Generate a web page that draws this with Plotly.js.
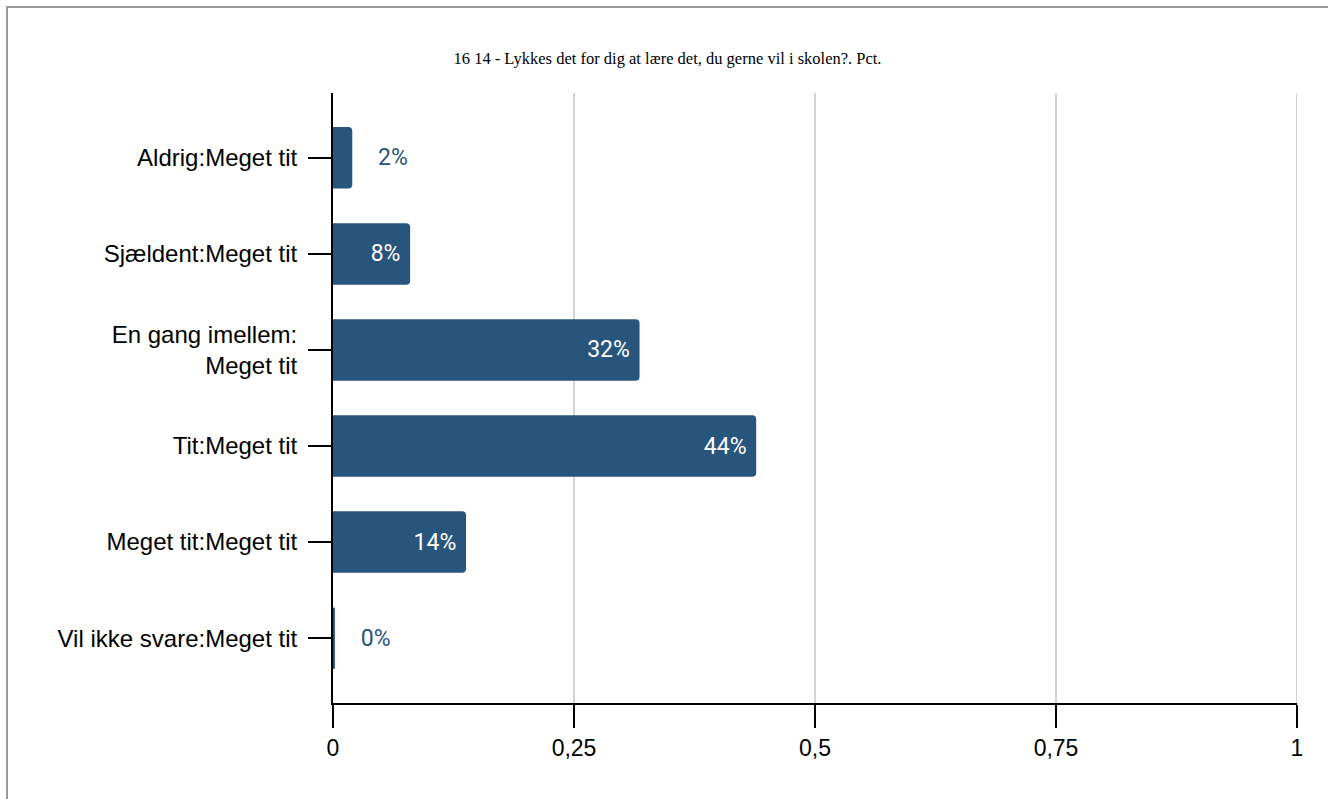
<!DOCTYPE html>
<html>
<head>
<meta charset="utf-8">
<script src="https://cdn.plot.ly/plotly-3.0.1.min.js"></script>
<style>
html,body{margin:0;padding:0;background:#fff;}
#chart{width:1328px;height:799px;}
</style>
</head>
<body>
<div id="chart"></div>
<script>
const categories = ['Aldrig:Meget tit','Sjældent:Meget tit','En gang imellem:<br>Meget tit','Tit:Meget tit','Meget tit:Meget tit','Vil ikke svare:Meget tit'];
const values = [0.02, 0.08, 0.318, 0.439, 0.138, 0.002];
const labels = ['2%','8%','32%','44%','14%','0%'];
const labelPlacement = ['outside','inside','inside','inside','inside','outside'];
const xTickVals = [0, 0.25, 0.5, 0.75, 1];
const xTickText = ['0','0,25','0,5','0,75','1'];

const NB = '\u00a0';
const texts = labels.map((t,i)=> labelPlacement[i]==='outside' ? NB.repeat(4)+t : t+NB.repeat(1));
const barColor = '#28557c';

const L = 333, R = 1297, T = 93, B = 703, W = 1328, H = 799;
const px = x => (x - L) / (R - L);
const py = y => (B - y) / (B - T);

const trace = {
  type: 'bar',
  orientation: 'h',
  y: categories,
  x: values,
  text: texts,
  textposition: labelPlacement,
  insidetextanchor: 'end',
  constraintext: 'none',
  cliponaxis: false,
  textfont: {family: 'Roboto, Arial, sans-serif', size: 23},
  insidetextfont: {family: 'Roboto, Arial, sans-serif', size: 23, color: '#ffffff'},
  outsidetextfont: {family: 'Roboto, Arial, sans-serif', size: 23, color: barColor},
  marker: {color: barColor, cornerradius: 4, line: {width: 0}},
  width: 0.64,
  hoverinfo: 'skip'
};

const layout = {
  width: W, height: H,
  margin: {l: L, r: W - R, t: T, b: H - B, pad: 0},
  paper_bgcolor: '#ffffff',
  plot_bgcolor: '#ffffff',
  showlegend: false,
  title: {
    text: '16 14 - Lykkes det for dig at lære det, du gerne vil i skolen?. Pct.',
    font: {family: '"Liberation Serif", "Times New Roman", serif', size: 16.5, color: '#000'},
    x: (455 + 880) / 2 / W, xanchor: 'center',
    y: 1 - 58 / H, yanchor: 'middle', yref: 'container'
  },
  xaxis: {
    range: [0, 1],
    tickvals: xTickVals,
    ticktext: xTickText,
    showgrid: true,
    gridcolor: '#d3d3d3',
    gridwidth: 2,
    zeroline: false,
    showline: true,
    linecolor: '#000',
    linewidth: 2,
    ticks: 'outside',
    ticklen: 23,
    tickwidth: 2,
    tickcolor: '#000',
    tickfont: {family: '"Liberation Sans", Arial, sans-serif', size: 23, color: '#000'},
    fixedrange: true
  },
  yaxis: {
    type: 'category',
    autorange: false,
    range: [5.675, -0.675],
    showgrid: false,
    zeroline: false,
    showline: true,
    linecolor: '#000',
    linewidth: 2,
    ticks: 'outside',
    ticklen: 23,
    tickwidth: 2,
    tickcolor: '#000',
    ticklabelstandoff: 6,
    tickfont: {family: '"Liberation Sans", Arial, sans-serif', size: 24, color: '#000'},
    fixedrange: true
  },
  shapes: [
    {type: 'line', xref: 'x', yref: 'paper', x0: 1, x1: 1, y0: 0, y1: 1, layer: 'below', line: {color: '#d3d3d3', width: 2}},
    {type: 'line', xref: 'paper', yref: 'paper', x0: px(6), x1: px(W), y0: py(7), y1: py(7), line: {color: '#999999', width: 2}},
    {type: 'line', xref: 'paper', yref: 'paper', x0: px(7), x1: px(7), y0: py(6), y1: py(H), line: {color: '#999999', width: 2}}
  ]
};

Plotly.newPlot('chart', [trace], layout, {displayModeBar: false, staticPlot: true});
</script>
</body>
</html>
